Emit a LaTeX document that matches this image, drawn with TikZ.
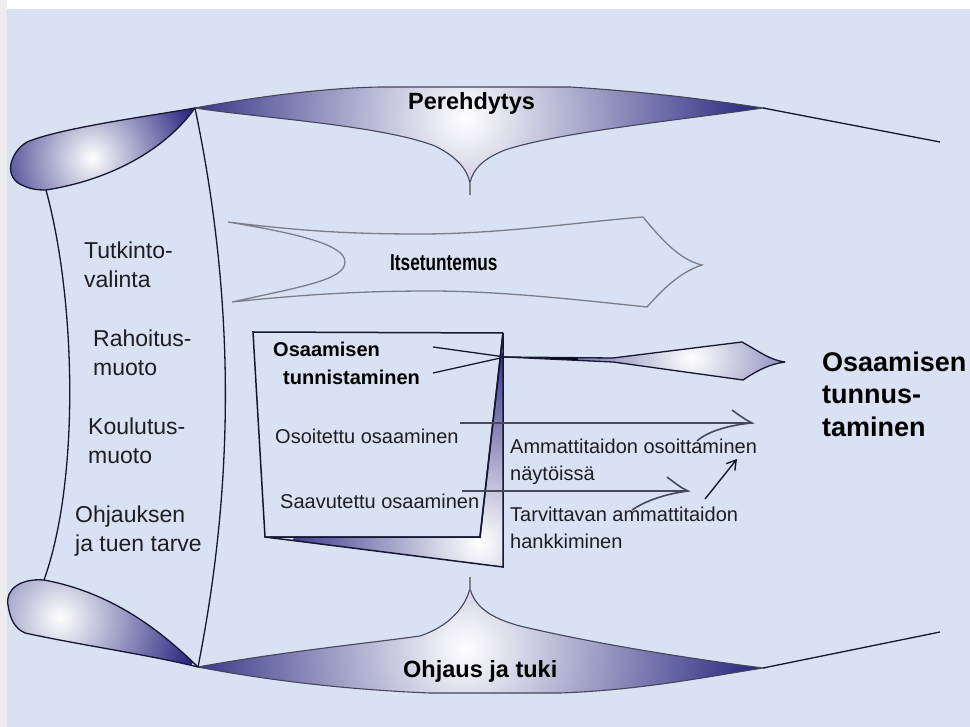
\documentclass[tikz,border=0pt]{standalone}
\usepackage{fontspec}
\setmainfont{Liberation Sans}
\usetikzlibrary{arrows.meta}
\definecolor{bgblue}{RGB}{217,226,242}
\definecolor{wingnavy}{RGB}{34,34,125}
\definecolor{txt}{RGB}{30,30,34}
\definecolor{arrgray}{RGB}{72,72,88}
\definecolor{outl}{RGB}{22,22,50}
\definecolor{itsgray}{RGB}{125,125,135}
\begin{document}
\begin{tikzpicture}[x=1pt,y=-1pt,
  outline/.style={draw=outl,line width=1.3pt},
  softline/.style={draw=outl!80,line width=1.1pt},
  itsline/.style={draw=itsgray,line width=1.3pt},
  boxline/.style={draw=outl,line width=1.5pt},
  arrline/.style={draw=arrgray,line width=1.6pt},
  lefttext/.style={text=txt,inner sep=0pt,anchor=base west,align=left,font=\fontsize{23}{29}\selectfont},
  midtext/.style={text=txt,inner sep=0pt,anchor=base west,align=left,font=\fontsize{20}{27}\selectfont},
  midbold/.style={text=black,inner sep=0pt,anchor=base west,font=\fontsize{20}{28}\selectfont\bfseries},
  wingtext/.style={text=black,inner sep=0pt,anchor=base west,font=\fontsize{23.5}{28}\selectfont\bfseries},
  bigtext/.style={text=black,inner sep=0pt,anchor=base west,align=left,font=\fontsize{27}{33}\selectfont\bfseries},
  navyshade/.style={inner color=white,outer color=wingnavy}
]
\useasboundingbox (0,0) rectangle (970,727);
\fill[white] (0,0) rectangle (970,727);
\fill[black!7] (0,0) rectangle (7,727);
\fill[bgblue] (7,9) rectangle (970,727);

% key points
\coordinate (tjL) at (195,108);
\coordinate (tjR) at (763,108);
\coordinate (tTail) at (940,142);
\coordinate (bjL) at (198,667);
\coordinate (bjR) at (763,668);
\coordinate (bTail) at (940,632);
\coordinate (tblobB) at (46,190);
\coordinate (bblobT) at (44,580);

% top blob
\draw[outline,path picture={\shade[navyshade] (92,158) circle (112pt);}]
  (tjL) .. controls (150,116) and (60,128) .. (27,142)
  .. controls (10,152) and (2,178) .. (24,186)
  .. controls (33,190) and (40,190) .. (tblobB)
  .. controls (110,180) and (165,150) .. cycle;

% bottom blob
\draw[outline,path picture={\shade[navyshade] (60,618) circle (140pt);}]
  (bjL) .. controls (170,640) and (120,594) .. (bblobT)
  .. controls (20,578) and (5,590) .. (8,605)
  .. controls (10,618) and (14,628) .. (25,633)
  .. controls (80,645) and (150,655) .. cycle;

% top wing (Perehdytys)
\draw[softline,path picture={\shade[navyshade] (465,118) circle (300pt);}]
  (tjL) .. controls (250,98) and (320,88) .. (380,87) -- (570,87)
  .. controls (650,92) and (710,100) .. (tjR)
  .. controls (680,120) and (560,132) .. (505,150)
  .. controls (485,158) and (473,168) .. (470,183)
  .. controls (467,168) and (455,156) .. (435,146)
  .. controls (380,125) and (260,118) .. cycle;
\coordinate (tcusp) at (470,182);
\coordinate (tstem) at (470,195);
\draw[draw=gray,line width=1.2pt] (tcusp) -- (tstem);
\draw[outline] (tjR) -- (tTail);

% bottom wing (Ohjaus ja tuki)
\draw[softline,path picture={\shade[navyshade] (465,648) circle (300pt);}]
  (bjL) .. controls (280,652) and (370,643) .. (420,636)
  .. controls (450,626) and (466,606) .. (470,588)
  .. controls (474,606) and (490,618) .. (520,626)
  .. controls (600,645) and (700,660) .. (bjR)
  .. controls (700,678) and (640,690) .. (560,693) -- (430,693)
  .. controls (330,689) and (250,677) .. cycle;
\coordinate (bcusp) at (470,590);
\coordinate (bstem) at (470,577);
\draw[draw=gray,line width=1.2pt] (bcusp) -- (bstem);
\draw[outline] (bjR) -- (bTail);

% left frame curves
\draw[outline] (tblobB) .. controls (76,300) and (80,480) .. (bblobT);
\draw[outline] (tjL) .. controls (235,300) and (235,480) .. (bjL);

% Itsetuntemus outline
\draw[itsline]
  (228,222) .. controls (300,231) and (350,234) .. (420,234)
  .. controls (500,234) and (580,222) .. (643,217)
  .. controls (662,240) and (680,260) .. (702,265)
  .. controls (680,272) and (662,290) .. (647,307)
  .. controls (580,300) and (500,291) .. (430,291)
  .. controls (350,291) and (290,296) .. (232,302)
  .. controls (300,287) and (345,280) .. (345,262)
  .. controls (345,245) and (300,234) .. cycle;

% box
\coordinate (bxTL) at (253,332);
\coordinate (bxTR) at (503,333);
\coordinate (bxBL) at (265,537);
\coordinate (bxBI) at (480,537);
\coordinate (bxBR) at (503,567);
\draw[boxline,path picture={\shade[navyshade] (493,553) circle (200pt);}]
  (bxTR) -- (bxBR) -- (bxBL) -- (bxBI) -- cycle;
\draw[boxline] (bxTR) -- (bxTL) -- (bxBL) -- (bxBI) -- (bxTR);

% spear
\coordinate (spA) at (433,347);
\coordinate (spB) at (433,373);
\coordinate (spX) at (505,357);
\coordinate (spTop) at (742,342);
\coordinate (spBot) at (743,380);
\coordinate (spTip) at (785,362);
\fill[path picture={\shade[navyshade] (728,358) circle (150pt);}]
  (spX) -- (613,358) -- (spTop) .. controls (760,352) and (770,360) .. (spTip)
  .. controls (770,364) and (758,370) .. (spBot) -- (613,362) -- cycle;
\draw[outline] (spA) -- (spX) -- (613,362) -- (spBot) .. controls (758,370) and (770,364) .. (spTip);
\draw[outline] (spB) -- (spX) -- (613,358) -- (spTop) .. controls (760,352) and (770,360) .. (spTip);

% arrows
\coordinate (a1s) at (460,423);
\coordinate (a1e) at (752,423);
\coordinate (a1u) at (732,410);
\coordinate (a1l) at (697,441);
\draw[arrline] (a1s) -- (a1e);
\draw[arrline] (a1u) .. controls (740,416) and (746,420) .. (a1e)
  .. controls (730,425) and (708,431) .. (a1l);
\coordinate (a2s) at (462,491);
\coordinate (a2e) at (688,491);
\coordinate (a2u) at (667,477);
\coordinate (a2l) at (632,510);
\draw[arrline] (a2s) -- (a2e);
\draw[arrline] (a2u) .. controls (675,483) and (681,488) .. (a2e)
  .. controls (665,494) and (645,501) .. (a2l);
\coordinate (a3s) at (705,499);
\coordinate (a3e) at (737,459);
\draw[draw=outl,line width=1.4pt,-{Straight Barb[length=9pt,width=11pt]}] (a3s) -- (a3e);

% texts (multi-line nodes: base = last line)
\node[wingtext] (pere) at (408,110) {Perehdytys};
\node[wingtext] (ohj) at (403,677) {Ohjaus ja tuki};
\node[text=black,inner sep=0pt,anchor=base west,font=\fontsize{23}{28}\selectfont\bfseries] (its) at (390,271) {\scalebox{0.75}[1]{Itsetuntemus}};

\node[lefttext] (tutk) at (84,288) {Tutkinto-\\valinta};
\node[lefttext] (raho) at (93,376) {Rahoitus-\\muoto};
\node[lefttext] (koul) at (88,464) {Koulutus-\\muoto};
\node[lefttext] (ohjt) at (75,551) {Ohjauksen\\ja tuen tarve};

\node[midbold] (osa1) at (273,357) {Osaamisen};
\node[midbold] (osa2) at (283,385) {tunnistaminen};
\node[midtext] (osoit) at (275,443) {Osoitettu osaaminen};
\node[midtext] (saav) at (280,508) {Saavutettu osaaminen};
\node[midtext] (amm) at (510,480) {Ammattitaidon osoittaminen\\näytöissä};
\node[midtext] (tarv) at (510,548) {Tarvittavan ammattitaidon\\hankkiminen};

\node[bigtext] (big) at (822,437) {Osaamisen\\tunnus-\\taminen};
\end{tikzpicture}
\end{document}
